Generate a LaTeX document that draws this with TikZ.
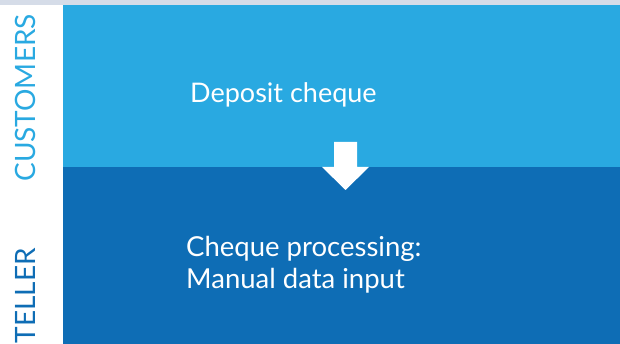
\documentclass[tikz,border=0pt]{standalone}
\usepackage{fontspec}
\setmainfont{Lato}
\usepackage{tikz}
\usepackage{xcolor}
\definecolor{laneLight}{HTML}{29A9E1}
\definecolor{laneDark}{HTML}{0E6DB5}
\definecolor{topStrip}{HTML}{D5DCE8}
\tikzset{
    lane-box/.style = {rectangle, inner sep=0pt, anchor=south west, minimum width=557pt},
    lane-title/.style = {rotate=90, anchor=base east, inner sep=0pt, font=\fontsize{28}{28}\selectfont},
    step-text/.style = {text=white, inner sep=0pt, align=left, font=\fontsize{27}{32}\selectfont},
}

\begin{document}
\begin{tikzpicture}[x=1pt,y=1pt]
\useasboundingbox (0,0) rectangle (620,344);
\fill[topStrip] (0,339) rectangle (620,344);
\node[lane-box, fill=laneDark, minimum height=177pt] (teller) at (63,0) {};
\node[lane-box, fill=laneLight, minimum height=162pt] (customers) at (63,177) {};
\node[lane-title, text=laneLight] (customers-title) at (35,330) {CUSTOMERS};
\node[lane-title, text=laneDark] (teller-title) at (35,96) {TELLER};
\node[step-text, anchor=base west] (deposit) at (190,241) {Deposit cheque};
\node[step-text, anchor=north west, font=\fontsize{27.5}{32}\selectfont] (processing) at (186,108) {Cheque processing:\\Manual data input};
\coordinate (arrow-top) at (345.5,202);
\fill[white] (arrow-top) ++(-11.5,0) -- ++(23,0) -- ++(0,-25) -- ++(12,0)
    -- ++(-23.5,-23) -- ++(-23.5,23) -- ++(12,0) -- cycle;
\end{tikzpicture}
\end{document}
